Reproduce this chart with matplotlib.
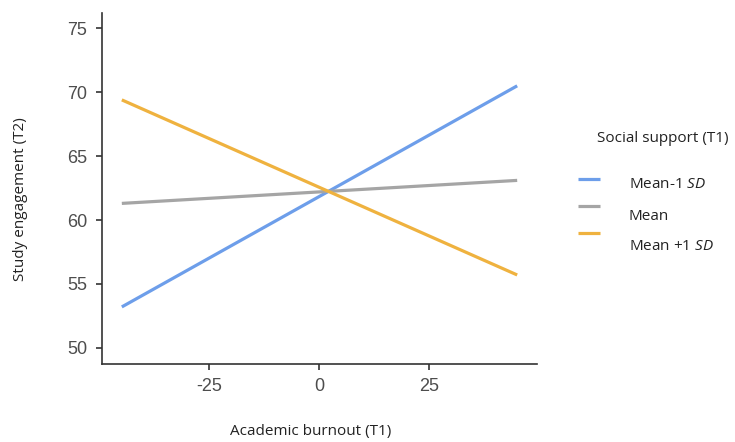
import matplotlib.pyplot as plt
from matplotlib.lines import Line2D
import numpy as np

plt.rcParams["axes.unicode_minus"] = False
plt.rcParams["mathtext.fontset"] = "custom"
plt.rcParams["mathtext.it"] = "Open Sans:italic"
plt.rcParams["mathtext.rm"] = "Open Sans"

# simple slopes: academic burnout (T1) -> study engagement (T2)
burnout = [-44.8, 45.0]
low_support = [53.2, 70.5]
mean_support = [61.3, 63.1]
high_support = [69.4, 55.7]
series_labels = ["Mean-1 $\\it{SD}$", "Mean", "Mean +1 $\\it{SD}$"]
series_colors = ["#6d9eea", "#a5a5a5", "#efb23f"]

x_ticks = [-25, 0, 25]
y_ticks = [50, 55, 60, 65, 70, 75]

W, H = 735, 442
fig = plt.figure(figsize=(W / 100, H / 100), dpi=100)
ax = fig.add_axes([0.1388, 0.177, 0.5918, 0.7936])

for ys, lab, col in zip([low_support, mean_support, high_support], series_labels, series_colors):
    ax.plot(burnout, ys, color=col, lw=2.3, label=lab, solid_capstyle="butt")

ax.set_xlim(-49.3, 49.5)
ax.set_ylim(48.75, 76.2)
ax.set_xticks(x_ticks)
ax.set_yticks(y_ticks)
ax.set_xticklabels([str(t) for t in x_ticks], family="Liberation Sans", fontsize=13)
ax.set_yticklabels([str(t) for t in y_ticks], family="Liberation Sans", fontsize=13)
ax.tick_params(labelcolor="#4d4d4d", color="#333333", width=1.2, length=4.5, pad=6)
for s in ["top", "right"]:
    ax.spines[s].set_visible(False)
for s in ["left", "bottom"]:
    ax.spines[s].set_color("#333333")
    ax.spines[s].set_linewidth(1.2)

lab_font = {"family": "Open Sans", "size": 11, "color": "#222222"}
ax.set_xlabel("Academic burnout (T1)", va="center", **lab_font)
ax.set_ylabel("Study engagement (T2)", va="center", **lab_font)
ax.xaxis.set_label_coords((311 - 102) / 435, -(432 - 364) / 351)
ax.yaxis.set_label_coords(-(102 - 20) / 435, (364 - 199) / 351)

# legend, drawn by hand to match the layout
fig.text(597 / W, 1 - 139 / H, "Social support (T1)", ha="left", va="center", **lab_font)
line_y = [179, 206, 233]
text_y = [184, 216, 247]
for ly, ty, lab, col in zip(line_y, text_y, series_labels, series_colors):
    fig.add_artist(Line2D([578 / W, 600 / W], [1 - ly / H, 1 - ly / H], color=col, lw=2.3,
                          solid_capstyle="butt", transform=fig.transFigure))
    fig.text(629 / W, 1 - ty / H, lab, ha="left", va="center", **lab_font)

fig.savefig("out.png", dpi=100)
